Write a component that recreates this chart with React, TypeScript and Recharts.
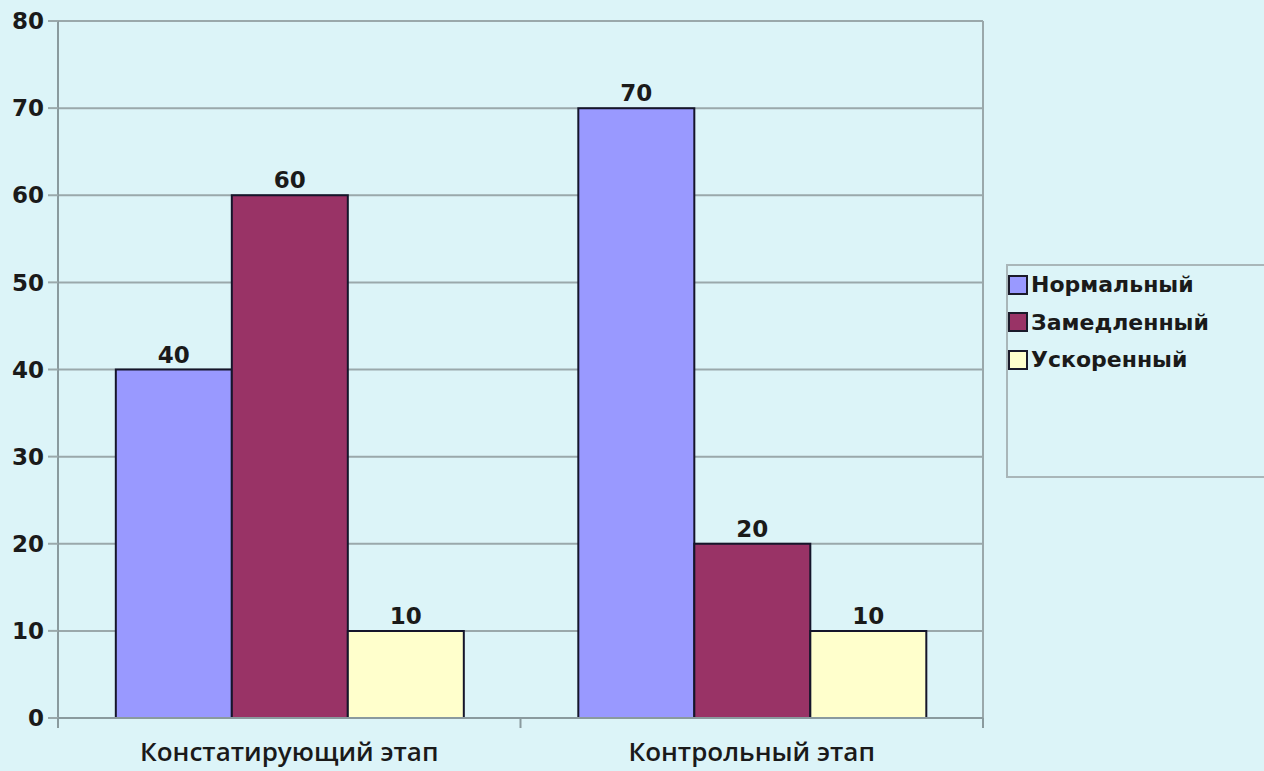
import React from 'react'
import { BarChart, Bar, XAxis, YAxis, CartesianGrid, LabelList } from 'recharts'

// Этапы эксперимента
const stages = ['Констатирующий этап', 'Контрольный этап']
// Значения по сериям (%)
const normal = [40, 70]
const slowed = [60, 20]
const accelerated = [10, 10]
const yTicks = [0, 10, 20, 30, 40, 50, 60, 70, 80]

const series = [
  { key: 'normal', name: 'Нормальный', color: '#9999FF' },
  { key: 'slowed', name: 'Замедленный', color: '#993366' },
  { key: 'accelerated', name: 'Ускоренный', color: '#FFFFCC' },
]

const data = stages.map((stage, i) => ({
  stage,
  normal: normal[i],
  slowed: slowed[i],
  accelerated: accelerated[i],
}))

const W = 1264
const H = 771
const margin = { top: 21, right: 281, bottom: 0, left: 0 }
const yAxisWidth = 58
const plotWidth = W - margin.left - margin.right - yAxisWidth
const band = plotWidth / stages.length

const numFont = "'DejaVu Sans', sans-serif"
const catFont = "'Open Sans', 'DejaVu Sans', sans-serif"

// подписи категорий + засечки на границах категорий
const StageTick = (props: any) => {
  const { x, y, payload, index } = props
  return (
    <g>
      {index === 0 && (
        <line x1={x - band / 2} x2={x - band / 2} y1={y - 8} y2={y + 2} stroke="#8a9a9e" strokeWidth={2} />
      )}
      <line x1={x + band / 2} x2={x + band / 2} y1={y - 8} y2={y + 2} stroke="#8a9a9e" strokeWidth={2} />
      <text x={x} y={y + 35} textAnchor="middle" fill="#1a1a1a" fontSize={26} fontWeight={600} fontFamily={catFont}>
        {payload.value}
      </text>
    </g>
  )
}

const LegendBox = () => (
  <div
    style={{
      position: 'absolute',
      left: 1006,
      top: 264,
      width: 270,
      height: 214,
      border: '2px solid #a9b6b9',
      borderRight: 'none',
      boxSizing: 'border-box',
      paddingTop: 0,
      fontFamily: "'DejaVu Sans', sans-serif",
      fontSize: 22,
      fontWeight: 700,
      color: '#1a1a1a',
    }}
  >
    {series.map((s) => (
      <div key={s.key} style={{ display: 'flex', alignItems: 'center', height: 37.5, whiteSpace: 'nowrap' }}>
        <span
          style={{
            display: 'inline-block',
            width: 16,
            height: 16,
            background: s.color,
            border: '2px solid #1a1a2a',
            marginRight: 3,
            flexShrink: 0,
          }}
        />
        {s.name}
      </div>
    ))}
  </div>
)

export default function App() {
  return (
    <div style={{ position: 'absolute', left: 0, top: 0, width: W, height: H, background: '#DCF4F8' }}>
      <BarChart width={W} height={H} data={data} margin={margin} barCategoryGap="12.5%" barGap={0}>
        <CartesianGrid
          stroke="#9aa8ab"
          strokeWidth={2}
          verticalCoordinatesGenerator={({ offset }: any) => [offset.left + offset.width]}
        />
        <XAxis
          dataKey="stage"
          height={53}
          tickLine={false}
          axisLine={{ stroke: '#8a9a9e', strokeWidth: 2 }}
          tick={<StageTick />}
          interval={0}
        />
        <YAxis
          width={yAxisWidth}
          domain={[0, 80]}
          ticks={yTicks}
          interval={0}
          tickSize={10}
          tickMargin={4}
          axisLine={{ stroke: '#8a9a9e', strokeWidth: 2 }}
          tickLine={{ stroke: '#9aa8ab', strokeWidth: 2 }}
          tick={{ fill: '#1a1a1a', fontSize: 23, fontWeight: 700, fontFamily: numFont }}
        />
        {series.map((s) => (
          <Bar
            key={s.key}
            dataKey={s.key}
            name={s.name}
            fill={s.color}
            stroke="#15152a"
            strokeWidth={2}
            isAnimationActive={false}
          >
            <LabelList
              dataKey={s.key}
              position="top"
              offset={7}
              fill="#1a1a1a"
              fontSize={23}
              fontWeight={700}
              fontFamily={numFont}
            />
          </Bar>
        ))}
      </BarChart>
      <LegendBox />
    </div>
  )
}
